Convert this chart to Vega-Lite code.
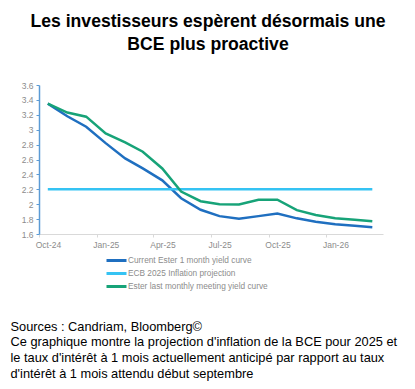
{
  "$schema": "https://vega.github.io/schema/vega-lite/v6.json",
  "width": 344,
  "height": 149,
  "autosize": {"type": "none"},
  "padding": {"left": 39, "top": 85, "right": 32, "bottom": 155},
  "background": "white",
  "config": {"view": {"stroke": null}, "font": "Liberation Sans"},
  "title": {
    "text": ["Les investisseurs espèrent désormais une", "BCE plus proactive"],
    "font": "Liberation Sans",
    "fontSize": 17.6,
    "fontWeight": "bold",
    "color": "#000000",
    "anchor": "middle",
    "lineHeight": 23.5,
    "offset": 27,
    "dx": -3
  },
  "data": {
    "values": [
      {"date": "2024-10-15", "series": "Current Ester 1 month yield curve", "value": 3.35},
      {"date": "2024-11-15", "series": "Current Ester 1 month yield curve", "value": 3.18},
      {"date": "2024-12-15", "series": "Current Ester 1 month yield curve", "value": 3.04},
      {"date": "2025-01-15", "series": "Current Ester 1 month yield curve", "value": 2.82},
      {"date": "2025-02-15", "series": "Current Ester 1 month yield curve", "value": 2.615},
      {"date": "2025-03-15", "series": "Current Ester 1 month yield curve", "value": 2.48},
      {"date": "2025-04-15", "series": "Current Ester 1 month yield curve", "value": 2.32},
      {"date": "2025-05-15", "series": "Current Ester 1 month yield curve", "value": 2.08},
      {"date": "2025-06-15", "series": "Current Ester 1 month yield curve", "value": 1.925},
      {"date": "2025-07-15", "series": "Current Ester 1 month yield curve", "value": 1.84},
      {"date": "2025-08-15", "series": "Current Ester 1 month yield curve", "value": 1.805},
      {"date": "2025-09-15", "series": "Current Ester 1 month yield curve", "value": 1.84},
      {"date": "2025-10-15", "series": "Current Ester 1 month yield curve", "value": 1.875},
      {"date": "2025-11-15", "series": "Current Ester 1 month yield curve", "value": 1.81},
      {"date": "2025-12-15", "series": "Current Ester 1 month yield curve", "value": 1.765},
      {"date": "2026-01-15", "series": "Current Ester 1 month yield curve", "value": 1.73},
      {"date": "2026-02-15", "series": "Current Ester 1 month yield curve", "value": 1.71},
      {"date": "2026-03-15", "series": "Current Ester 1 month yield curve", "value": 1.69},
      {"date": "2024-10-15", "series": "ECB 2025 Inflation projection", "value": 2.2},
      {"date": "2024-11-15", "series": "ECB 2025 Inflation projection", "value": 2.2},
      {"date": "2024-12-15", "series": "ECB 2025 Inflation projection", "value": 2.2},
      {"date": "2025-01-15", "series": "ECB 2025 Inflation projection", "value": 2.2},
      {"date": "2025-02-15", "series": "ECB 2025 Inflation projection", "value": 2.2},
      {"date": "2025-03-15", "series": "ECB 2025 Inflation projection", "value": 2.2},
      {"date": "2025-04-15", "series": "ECB 2025 Inflation projection", "value": 2.2},
      {"date": "2025-05-15", "series": "ECB 2025 Inflation projection", "value": 2.2},
      {"date": "2025-06-15", "series": "ECB 2025 Inflation projection", "value": 2.2},
      {"date": "2025-07-15", "series": "ECB 2025 Inflation projection", "value": 2.2},
      {"date": "2025-08-15", "series": "ECB 2025 Inflation projection", "value": 2.2},
      {"date": "2025-09-15", "series": "ECB 2025 Inflation projection", "value": 2.2},
      {"date": "2025-10-15", "series": "ECB 2025 Inflation projection", "value": 2.2},
      {"date": "2025-11-15", "series": "ECB 2025 Inflation projection", "value": 2.2},
      {"date": "2025-12-15", "series": "ECB 2025 Inflation projection", "value": 2.2},
      {"date": "2026-01-15", "series": "ECB 2025 Inflation projection", "value": 2.2},
      {"date": "2026-02-15", "series": "ECB 2025 Inflation projection", "value": 2.2},
      {"date": "2026-03-15", "series": "ECB 2025 Inflation projection", "value": 2.2},
      {"date": "2024-10-15", "series": "Ester last monthly meeting yield curve", "value": 3.35},
      {"date": "2024-11-15", "series": "Ester last monthly meeting yield curve", "value": 3.23},
      {"date": "2024-12-15", "series": "Ester last monthly meeting yield curve", "value": 3.175},
      {"date": "2025-01-15", "series": "Ester last monthly meeting yield curve", "value": 2.95},
      {"date": "2025-02-15", "series": "Ester last monthly meeting yield curve", "value": 2.83},
      {"date": "2025-03-15", "series": "Ester last monthly meeting yield curve", "value": 2.705},
      {"date": "2025-04-15", "series": "Ester last monthly meeting yield curve", "value": 2.48},
      {"date": "2025-05-15", "series": "Ester last monthly meeting yield curve", "value": 2.17},
      {"date": "2025-06-15", "series": "Ester last monthly meeting yield curve", "value": 2.04},
      {"date": "2025-07-15", "series": "Ester last monthly meeting yield curve", "value": 2.0},
      {"date": "2025-08-15", "series": "Ester last monthly meeting yield curve", "value": 1.995},
      {"date": "2025-09-15", "series": "Ester last monthly meeting yield curve", "value": 2.06},
      {"date": "2025-10-15", "series": "Ester last monthly meeting yield curve", "value": 2.06},
      {"date": "2025-11-15", "series": "Ester last monthly meeting yield curve", "value": 1.92},
      {"date": "2025-12-15", "series": "Ester last monthly meeting yield curve", "value": 1.855},
      {"date": "2026-01-15", "series": "Ester last monthly meeting yield curve", "value": 1.81},
      {"date": "2026-02-15", "series": "Ester last monthly meeting yield curve", "value": 1.79},
      {"date": "2026-03-15", "series": "Ester last monthly meeting yield curve", "value": 1.77}
    ]
  },
  "mark": {"type": "line", "strokeWidth": 2.5},
  "encoding": {
    "x": {
      "field": "date",
      "type": "temporal",
      "scale": {
        "type": "utc",
        "domain": [
          {"year": 2024, "month": 10, "date": 1, "utc": true},
          {"year": 2026, "month": 4, "date": 1, "utc": true}
        ]
      },
      "axis": {
        "title": [
          "Sources : Candriam, Bloomberg©",
          "Ce graphique montre la projection d'inflation de la BCE pour 2025 et",
          "le taux d'intérêt à 1 mois actuellement anticipé par rapport au taux",
          "d'intérêt à 1 mois attendu début septembre"
        ],
        "titleFont": "Liberation Sans",
        "titleFontSize": 12.8,
        "titleFontWeight": "normal",
        "titleColor": "#000000",
        "titleAlign": "left",
        "titleAnchor": "start",
        "titleBaseline": "top",
        "titleLineHeight": 15.7,
        "titleX": -29,
        "titleY": 86,
        "values": [
          {"year": 2024, "month": 10, "date": 1, "utc": true},
          {"year": 2025, "month": 1, "date": 1, "utc": true},
          {"year": 2025, "month": 4, "date": 1, "utc": true},
          {"year": 2025, "month": 7, "date": 1, "utc": true},
          {"year": 2025, "month": 10, "date": 1, "utc": true},
          {"year": 2026, "month": 1, "date": 1, "utc": true}
        ],
        "format": "%b-%y",
        "labelFont": "Liberation Sans",
        "labelFontSize": 8.5,
        "labelColor": "#8c8c8c",
        "labelOffset": 9,
        "labelPadding": 3,
        "labelFlush": false,
        "labelOverlap": false,
        "tickSize": 3,
        "tickColor": "#d9d9d9",
        "domainColor": "#d9d9d9",
        "grid": false
      }
    },
    "y": {
      "field": "value",
      "type": "quantitative",
      "scale": {"domain": [1.6, 3.6], "zero": false, "nice": false},
      "axis": {
        "title": null,
        "values": [1.6, 1.8, 2.0, 2.2, 2.4, 2.6, 2.8, 3.0, 3.2, 3.4, 3.6],
        "format": ".1~f",
        "labelFont": "Liberation Sans",
        "labelFontSize": 8.5,
        "labelColor": "#8c8c8c",
        "labelPadding": 3,
        "tickSize": 3,
        "tickColor": "#5b9bd5",
        "domainColor": "#5b9bd5",
        "domainWidth": 1.5,
        "grid": false
      }
    },
    "color": {
      "field": "series",
      "type": "nominal",
      "scale": {
        "domain": ["Current Ester 1 month yield curve", "ECB 2025 Inflation projection", "Ester last monthly meeting yield curve"],
        "range": ["#1f6fc0", "#35c3f3", "#17a378"]
      },
      "legend": {
        "title": null,
        "orient": "none",
        "legendX": 71,
        "legendY": 169,
        "symbolType": "M-2,0H2",
        "symbolSize": 100,
        "symbolStrokeWidth": 3,
        "labelFont": "Liberation Sans",
        "labelFontSize": 8.3,
        "labelColor": "#8c8c8c",
        "labelOffset": 5,
        "rowPadding": -1
      }
    }
  }
}
